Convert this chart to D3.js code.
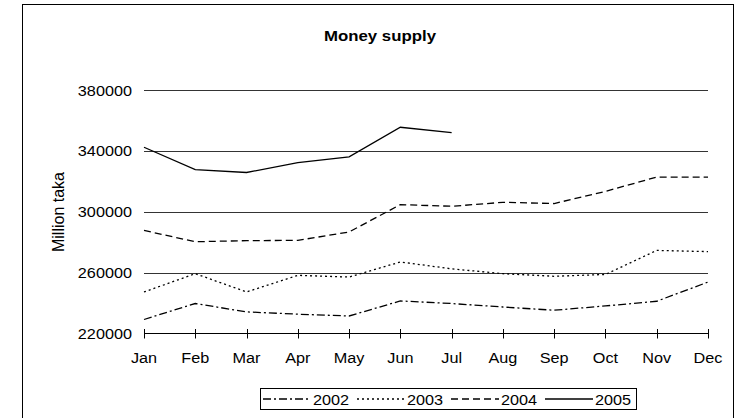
<!DOCTYPE html>
<html>
<head>
<meta charset="utf-8">
<script src="https://cdn.jsdelivr.net/npm/d3@7"></script>
<style>
  body { margin: 0; background: #fff; }
  svg { font-family: "Liberation Sans", Arial, sans-serif; }
</style>
</head>
<body>
<svg id="chart"></svg>
<script>
const months = ['Jan','Feb','Mar','Apr','May','Jun','Jul','Aug','Sep','Oct','Nov','Dec'];
const yTicks = [220000, 260000, 300000, 340000, 380000];
const years = ['2002','2003','2004','2005'];
const s2002 = [229200, 239700, 234200, 232700, 231500, 241400, 239700, 237400, 235300, 238100, 241200, 253800];
const s2003 = [247300, 259300, 247300, 258200, 257100, 267000, 262500, 259300, 257600, 258800, 274600, 273800];
const s2004 = [287700, 280300, 281000, 281200, 286700, 304700, 303600, 306200, 305400, 313400, 322800, 322800];
const s2005 = [342400, 327700, 325800, 332300, 336100, 355500, 352000];

const series = [
    {name: years[0], values: s2002, dash: '8,3,2,3'},
    {name: years[1], values: s2003, dash: '2,3'},
    {name: years[2], values: s2004, dash: '7,4'},
    {name: years[3], values: s2005, dash: null}
];

const width = 740, height = 418;
const sx = 1.16; // the reference text is a bit wider than plain Arial
const svg = d3.select('#chart').attr('width', width).attr('height', height);

// helper: text stretched horizontally around its anchor point
function stretched(sel, x, y, k) {
    return sel.attr('transform', `translate(${x}, ${y}) scale(${k}, 1)`);
}

// outer frame (bottom edge falls outside the picture)
svg.append('rect')
    .attr('x', 22.5).attr('y', 4.5)
    .attr('width', 711).attr('height', 430)
    .attr('fill', 'none').attr('stroke', '#000').attr('stroke-width', 1);

const xScale = d3.scalePoint().domain(months).range([144, 708]);
const yScale = d3.scaleLinear().domain([220000, 380000]).range([333.5, 90]);

// gridlines
svg.append('g')
    .selectAll('line')
    .data(yTicks.slice(1))
    .enter()
    .append('line')
    .attr('x1', xScale('Jan')).attr('x2', xScale('Dec'))
    .attr('y1', d => Math.round(yScale(d)) + 0.5)
    .attr('y2', d => Math.round(yScale(d)) + 0.5)
    .attr('stroke', '#000').attr('stroke-width', 0.8);

// y labels
svg.append('g')
    .selectAll('text')
    .data(yTicks)
    .enter()
    .append('text')
    .each(function(d){ stretched(d3.select(this), 132, yScale(d) + 5.5, sx); })
    .attr('text-anchor', 'end')
    .attr('font-size', 14)
    .text(d => d);

// x axis with crossing ticks
const xAxis = svg.append('g');
xAxis.append('line')
    .attr('x1', xScale('Jan')).attr('x2', xScale('Dec'))
    .attr('y1', 333.5).attr('y2', 333.5)
    .attr('stroke', '#000');
xAxis.selectAll('.tick')
    .data(months)
    .enter()
    .append('line')
    .attr('x1', d => Math.round(xScale(d)) + 0.5)
    .attr('x2', d => Math.round(xScale(d)) + 0.5)
    .attr('y1', 329).attr('y2', 338.5)
    .attr('stroke', '#000');
xAxis.selectAll('text')
    .data(months)
    .enter()
    .append('text')
    .each(function(d){ stretched(d3.select(this), xScale(d), 362.5, sx); })
    .attr('text-anchor', 'middle')
    .attr('font-size', 14)
    .text(d => d);

const line = d3.line()
    .x((d, i) => xScale(months[i]))
    .y(d => yScale(d));

svg.append('g')
    .selectAll('path')
    .data(series)
    .enter()
    .append('path')
    .attr('d', d => line(d.values))
    .attr('fill', 'none')
    .attr('stroke', '#000')
    .attr('stroke-width', 1.3)
    .attr('stroke-dasharray', d => d.dash);

// title
stretched(svg.append('text'), 380, 41, 1.2)
    .attr('text-anchor', 'middle')
    .attr('font-size', 14)
    .attr('font-weight', 'bold')
    .text('Money supply');

// y axis title
svg.append('text')
    .attr('transform', 'translate(64, 212) rotate(-90)')
    .attr('text-anchor', 'middle')
    .attr('font-size', 16)
    .text('Million taka');

// legend
const legend = svg.append('g');
legend.append('rect')
    .attr('x', 260.5).attr('y', 388.5)
    .attr('width', 376).attr('height', 21)
    .attr('fill', '#fff').attr('stroke', '#000');
const legX = [263, 357, 451, 545];
const item = legend.selectAll('.item')
    .data(series)
    .enter()
    .append('g')
    .attr('transform', (d, i) => `translate(${legX[i]}, 399)`);
item.append('line')
    .attr('x1', 0).attr('x2', 48)
    .attr('y1', 0).attr('y2', 0)
    .attr('stroke', '#000').attr('stroke-width', 1.3)
    .attr('stroke-dasharray', d => d.dash);
item.append('text')
    .each(function(){ stretched(d3.select(this), 50, 5.5, sx); })
    .attr('font-size', 14)
    .text(d => d.name);
</script>
</body>
</html>
